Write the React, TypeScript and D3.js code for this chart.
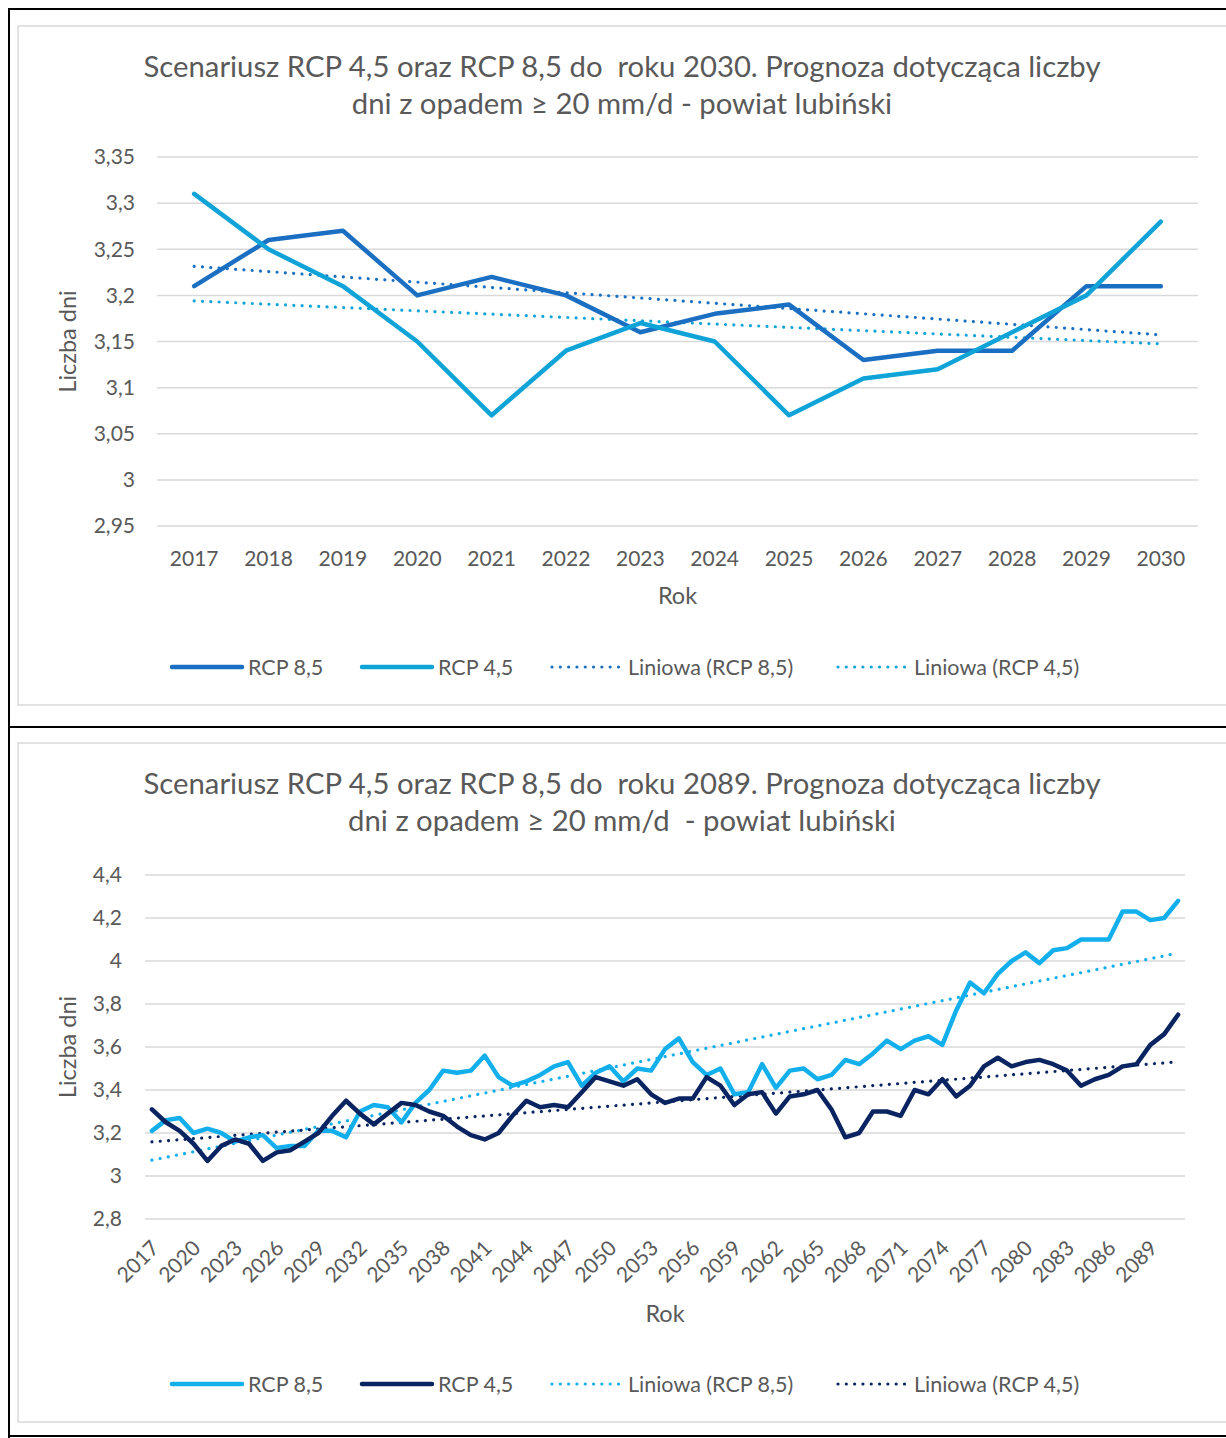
import * as d3 from "d3";

// ---- chart 1 (2017-2030) ----
const years1 = [2017, 2018, 2019, 2020, 2021, 2022, 2023, 2024, 2025, 2026, 2027, 2028, 2029, 2030];
const rcp85_1 = [3.21, 3.26, 3.27, 3.2, 3.22, 3.2, 3.16, 3.18, 3.19, 3.13, 3.14, 3.14, 3.21, 3.21];
const rcp45_1 = [3.31, 3.25, 3.21, 3.15, 3.07, 3.14, 3.17, 3.15, 3.07, 3.11, 3.12, 3.16, 3.2, 3.28];
const yTicks1 = [2.95, 3, 3.05, 3.1, 3.15, 3.2, 3.25, 3.3, 3.35];

// ---- chart 2 (2017-2091) ----
const years2 = [
  2017, 2018, 2019, 2020, 2021, 2022, 2023, 2024, 2025, 2026, 2027, 2028, 2029, 2030, 2031,
  2032, 2033, 2034, 2035, 2036, 2037, 2038, 2039, 2040, 2041, 2042, 2043, 2044, 2045, 2046,
  2047, 2048, 2049, 2050, 2051, 2052, 2053, 2054, 2055, 2056, 2057, 2058, 2059, 2060, 2061,
  2062, 2063, 2064, 2065, 2066, 2067, 2068, 2069, 2070, 2071, 2072, 2073, 2074, 2075, 2076,
  2077, 2078, 2079, 2080, 2081, 2082, 2083, 2084, 2085, 2086, 2087, 2088, 2089, 2090, 2091,
];
const rcp85_2 = [
  3.21, 3.26, 3.27, 3.2, 3.22, 3.2, 3.16, 3.18, 3.19, 3.13, 3.14, 3.14, 3.21, 3.21, 3.18,
  3.3, 3.33, 3.32, 3.25, 3.34, 3.4, 3.49, 3.48, 3.49, 3.56, 3.46, 3.42, 3.44, 3.47, 3.51,
  3.53, 3.42, 3.48, 3.51, 3.44, 3.5, 3.49, 3.59, 3.64, 3.53, 3.47, 3.5, 3.38, 3.39, 3.52,
  3.41, 3.49, 3.5, 3.45, 3.47, 3.54, 3.52, 3.57, 3.63, 3.59, 3.63, 3.65, 3.61, 3.77, 3.9,
  3.85, 3.94, 4.0, 4.04, 3.99, 4.05, 4.06, 4.1, 4.1, 4.1, 4.23, 4.23, 4.19, 4.2, 4.28,
];
const rcp45_2 = [
  3.31, 3.25, 3.21, 3.15, 3.07, 3.14, 3.17, 3.15, 3.07, 3.11, 3.12, 3.16, 3.2, 3.28, 3.35,
  3.29, 3.24, 3.29, 3.34, 3.33, 3.3, 3.28, 3.23, 3.19, 3.17, 3.2, 3.28, 3.35, 3.32, 3.33,
  3.32, 3.39, 3.46, 3.44, 3.42, 3.45, 3.38, 3.34, 3.36, 3.36, 3.46, 3.42, 3.33, 3.38, 3.39,
  3.29, 3.37, 3.38, 3.4, 3.31, 3.18, 3.2, 3.3, 3.3, 3.28, 3.4, 3.38, 3.45, 3.37, 3.42,
  3.51, 3.55, 3.51, 3.53, 3.54, 3.52, 3.49, 3.42, 3.45, 3.47, 3.51, 3.52, 3.61, 3.66, 3.75,
];
const xTickLabels2 = [
  "2017", "2020", "2023", "2026", "2029", "2032", "2035", "2038", "2041", "2044", "2047", "2050", "2053",
  "2056", "2059", "2062", "2065", "2068", "2071", "2074", "2077", "2080", "2083", "2086", "2089",
];
const yTicks2 = [2.8, 3, 3.2, 3.4, 3.6, 3.8, 4, 4.2, 4.4];

const FONT = "Lato, 'Open Sans', sans-serif";
const GREY = "#595959";

type Series = { name: string; values: number[]; color: string };

// least squares trend, like Excel "Liniowa"
function linearFit(values: number[]) {
  const n = values.length;
  const xs = d3.range(n);
  const mx = d3.mean(xs) || 0;
  const my = d3.mean(values) || 0;
  let num = 0, den = 0;
  xs.forEach((x, i) => {
    num += (x - mx) * (values[i] - my);
    den += (x - mx) * (x - mx);
  });
  const slope = num / den;
  return [my - slope * mx, my + slope * (n - 1 - mx)];
}

const fmt = (v: number) => String(+v.toFixed(2)).replace(".", ",");

interface ChartProps {
  offsetY: number;
  titleLines: string[];
  years: number[];
  series: Series[];
  yTicks: number[];
  left: number;
  right: number;
  top: number;
  bottom: number;
  tickRight: number;
  rotated: boolean;
  xLabels: string[];
}

function LineChart({ offsetY, titleLines, years, series, yTicks, left, right, top, bottom, tickRight, rotated, xLabels }: ChartProps) {
  const x = d3.scaleBand<number>().domain(years).range([left, right]);
  const cx = (yr: number) => (x(yr) || 0) + x.bandwidth() / 2;
  const y = d3.scaleLinear().domain([yTicks[0], yTicks[yTicks.length - 1]]).range([bottom, top]);
  const line = d3.line<number>().x((_, i) => cx(years[i])).y(d => y(d));

  const legendX = [172, 362, 552, 838];
  const legendItems = [
    ...series.map(s => ({ label: s.name, color: s.color, dotted: false })),
    ...series.map(s => ({ label: `Liniowa (${s.name})`, color: s.color, dotted: true })),
  ];
  const midX = (left + right) / 2;

  return (
    <g transform={`translate(0,${offsetY})`}>
      <rect x={18} y={26} width={1240} height={679} fill="#fff" stroke="#d9d9d9" strokeWidth={1.5} />
      {titleLines.map((t, i) => (
        <text key={t} x={622} y={77 + i * 37} textAnchor="middle" fontSize={29.3} fill={GREY}
          fontFamily={FONT} style={{ whiteSpace: "pre" }}>{t}</text>
      ))}
      {yTicks.map(t => (
        <g key={t}>
          <line x1={left} x2={right} y1={y(t)} y2={y(t)} stroke="#d9d9d9" strokeWidth={1.5} />
          <text x={tickRight} y={y(t)} dy="0.35em" textAnchor="end" fontSize={21} fill={GREY} fontFamily={FONT}>{fmt(t)}</text>
        </g>
      ))}
      {!rotated && years.map(yr => (
        <text key={yr} x={cx(yr)} y={bottom + 40} textAnchor="middle" fontSize={21} fill={GREY} fontFamily={FONT}>{yr}</text>
      ))}
      {rotated && xLabels.map(l => (
        <text key={l} transform={`translate(${cx(+l) - 2},${bottom + 20}) rotate(-45)`} textAnchor="end" dy="0.7em"
          fontSize={21} fill={GREY} fontFamily={FONT}>{l}</text>
      ))}
      <text x={midX} y={rotated ? bottom + 103 : bottom + 78} textAnchor="middle" fontSize={23.5} fill={GREY} fontFamily={FONT}>Rok</text>
      <text transform={`translate(76,${(top + bottom) / 2}) rotate(-90)`} textAnchor="middle" fontSize={23.5} fill={GREY} fontFamily={FONT}>Liczba dni</text>

      {series.map(s => {
        const [a, b] = linearFit(s.values);
        return (
          <line key={"t" + s.name} x1={cx(years[0])} x2={cx(years[years.length - 1])} y1={y(a)} y2={y(b)}
            stroke={s.color} strokeWidth={3.2} strokeDasharray="0.01 8.3" strokeLinecap="round" />
        );
      })}
      {series.map(s => (
        <path key={s.name} d={line(s.values) || ""} fill="none" stroke={s.color} strokeWidth={4.5}
          strokeLinejoin="round" strokeLinecap="round" />
      ))}

      {legendItems.map((it, i) => (
        <g key={it.label} transform={`translate(${legendX[i]},667)`}>
          <line x1={0} x2={70} y1={0} y2={0} stroke={it.color}
            strokeWidth={it.dotted ? 3.2 : 4.5} strokeDasharray={it.dotted ? "0.01 8.3" : undefined}
            strokeLinecap="round" />
          <text x={76} y={0} dy="0.35em" fontSize={21.5} fill={GREY} fontFamily={FONT}>{it.label}</text>
        </g>
      ))}
    </g>
  );
}

export default function App() {
  return (
    <svg width={1226} height={1438} style={{ position: "absolute", left: 0, top: 0, background: "#fff" }}>
      <rect width={1226} height={1438} fill="#fff" />
      <LineChart
        offsetY={0}
        titleLines={[
          "Scenariusz RCP 4,5 oraz RCP 8,5 do  roku 2030. Prognoza dotycząca liczby",
          "dni z opadem ≥ 20 mm/d - powiat lubiński",
        ]}
        years={years1}
        series={[
          { name: "RCP 8,5", values: rcp85_1, color: "#1B6FC2" },
          { name: "RCP 4,5", values: rcp45_1, color: "#0FA3D8" },
        ]}
        yTicks={yTicks1}
        left={157}
        right={1198}
        top={157}
        bottom={526}
        tickRight={135}
        rotated={false}
        xLabels={[]}
      />
      <LineChart
        offsetY={717}
        titleLines={[
          "Scenariusz RCP 4,5 oraz RCP 8,5 do  roku 2089. Prognoza dotycząca liczby",
          "dni z opadem ≥ 20 mm/d  - powiat lubiński",
        ]}
        years={years2}
        series={[
          { name: "RCP 8,5", values: rcp85_2, color: "#12AFEC" },
          { name: "RCP 4,5", values: rcp45_2, color: "#0A2461" },
        ]}
        yTicks={yTicks2}
        left={145}
        right={1185}
        top={158}
        bottom={502}
        tickRight={122}
        rotated={true}
        xLabels={xTickLabels2}
      />
      {/* outer frame */}
      <line x1={9} x2={9} y1={8} y2={1438} stroke="#000" strokeWidth={2} />
      <line x1={8} x2={1226} y1={9} y2={9} stroke="#000" strokeWidth={2} />
      <line x1={8} x2={1226} y1={727} y2={727} stroke="#000" strokeWidth={2} />
      <line x1={8} x2={1226} y1={1436} y2={1436} stroke="#000" strokeWidth={2} />
    </svg>
  );
}
